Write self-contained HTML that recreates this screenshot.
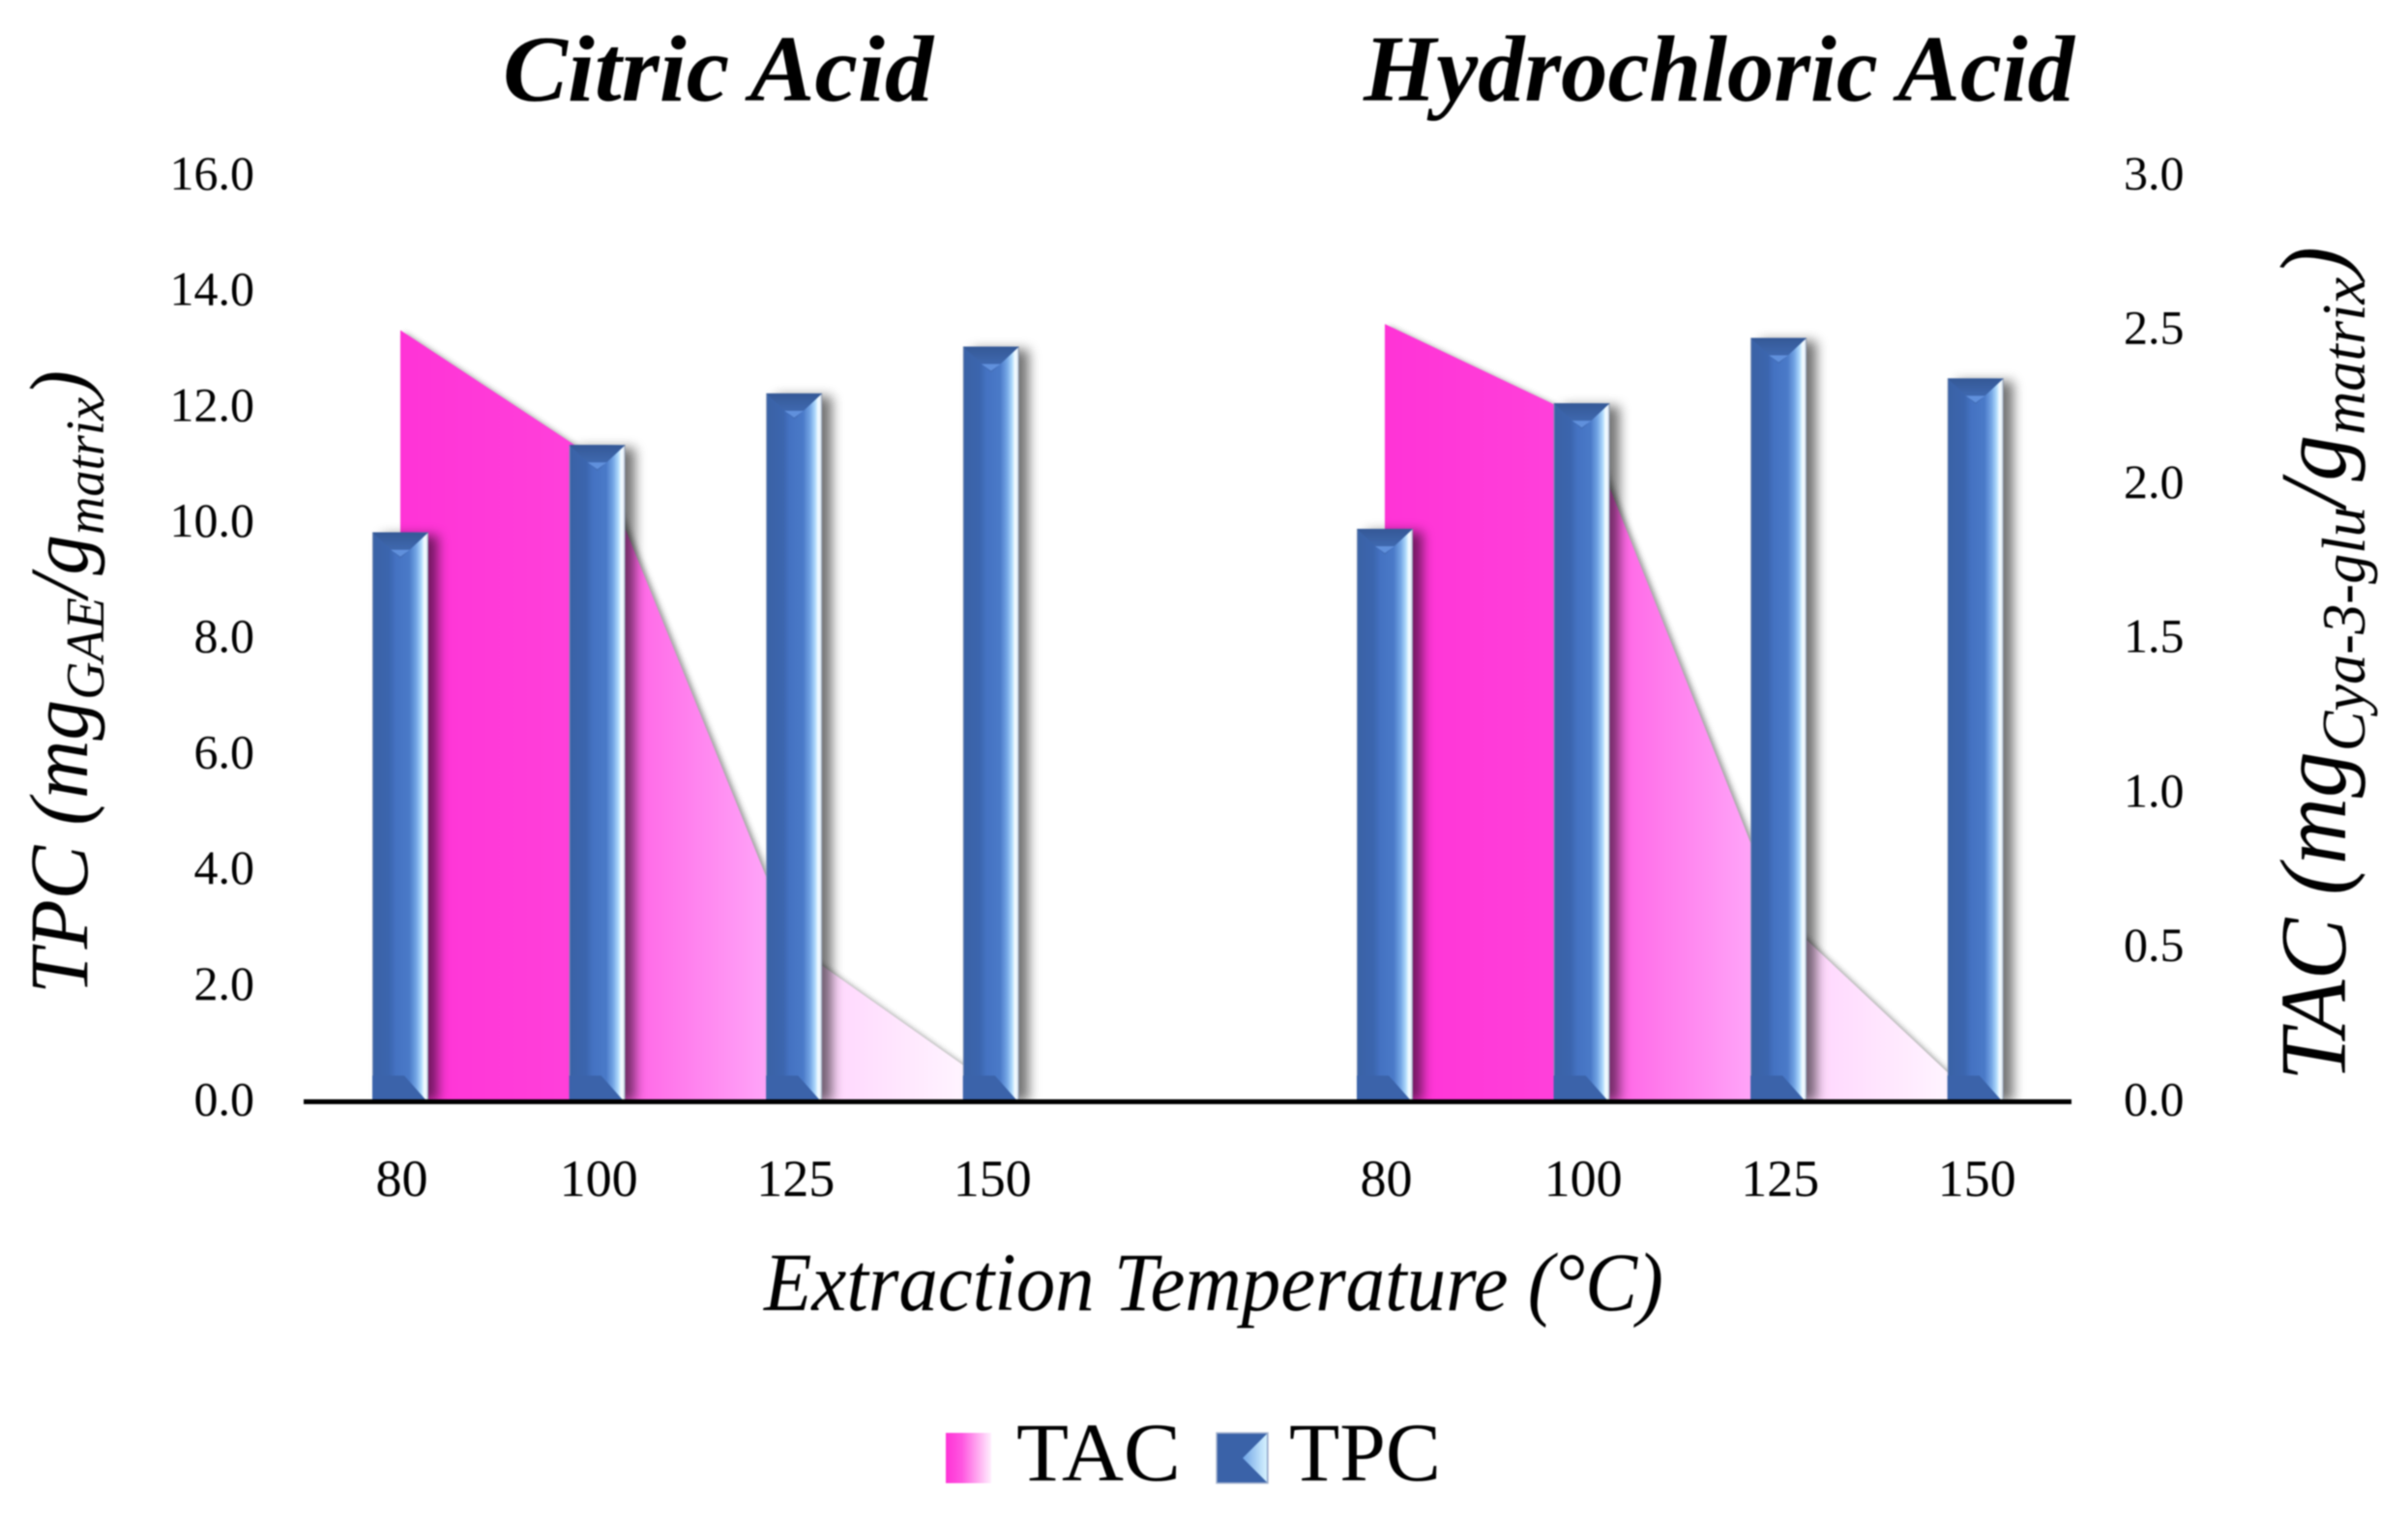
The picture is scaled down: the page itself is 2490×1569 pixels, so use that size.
<!DOCTYPE html>
<html lang="en">
<head>
<meta charset="utf-8">
<title>TPC and TAC by Extraction Temperature</title>
<style>
  html, body { margin: 0; padding: 0; background: #fff; }
  #chart { display: block; width: 2490px; height: 1569px; font-family: "Liberation Serif", serif; filter: blur(0.7px); }
  text { fill: #000; }
</style>
</head>
<body>
<svg id="chart" xmlns="http://www.w3.org/2000/svg" width="2490" height="1569" viewBox="0 0 2490 1569">
  <defs>
    <linearGradient id="barFill" x1="0" y1="0" x2="1" y2="0">
      <stop offset="0" stop-color="#8d9dba"/>
      <stop offset="0.025" stop-color="#3a62a6"/>
      <stop offset="0.3" stop-color="#3b65ae"/>
      <stop offset="0.42" stop-color="#4472c2"/>
      <stop offset="0.66" stop-color="#4a7ac8"/>
      <stop offset="0.78" stop-color="#72a4e4"/>
      <stop offset="0.87" stop-color="#acd8fb"/>
      <stop offset="0.93" stop-color="#f6fdff"/>
      <stop offset="0.97" stop-color="#e4eef8"/>
      <stop offset="1" stop-color="#7d8aa0"/>
    </linearGradient>
    <linearGradient id="bevelTop" x1="0" y1="0" x2="0" y2="1">
      <stop offset="0" stop-color="#345896"/>
      <stop offset="1" stop-color="#4470bb"/>
    </linearGradient>
    <linearGradient id="tacFill" x1="0" y1="0" x2="1" y2="0">
      <stop offset="0" stop-color="#ff33d6"/>
      <stop offset="0.3" stop-color="#ff40da"/>
      <stop offset="0.42" stop-color="#ff6ee8"/>
      <stop offset="0.62" stop-color="#ffa4f8"/>
      <stop offset="0.72" stop-color="#ffd6fd"/>
      <stop offset="1" stop-color="#fffaff"/>
    </linearGradient>
    <linearGradient id="legendTac" x1="0" y1="0" x2="1" y2="0">
      <stop offset="0" stop-color="#ff33d6"/>
      <stop offset="0.35" stop-color="#ff55e0"/>
      <stop offset="1" stop-color="#fff0fe"/>
    </linearGradient>
    <linearGradient id="legendLight" x1="0" y1="0" x2="1" y2="0">
      <stop offset="0" stop-color="#6ea4e6"/>
      <stop offset="1" stop-color="#d6f2ff"/>
    </linearGradient>
    <filter id="barShadow" x="-60%" y="-5%" width="220%" height="110%"><feGaussianBlur stdDeviation="6"/></filter>
    <filter id="areaShadow" x="-5%" y="-5%" width="110%" height="110%"><feGaussianBlur stdDeviation="3"/></filter>
    <clipPath id="plotClip"><rect x="0" y="0" width="2490" height="1139"/></clipPath>
  </defs>

  <g id="marks"></g>

  <line x1="314" y1="1139.5" x2="2142" y2="1139.5" stroke="#000" stroke-width="5"/>

  <g id="leftTicks" font-size="50" text-anchor="end"></g>
  <g id="rightTicks" font-size="50" text-anchor="start"></g>
  <g id="xTicks" font-size="54" text-anchor="middle"></g>

  <text x="520" y="104" font-size="98" font-weight="bold" font-style="italic" textLength="445" lengthAdjust="spacingAndGlyphs">Citric Acid</text>
  <text x="1410" y="104" font-size="98" font-weight="bold" font-style="italic" textLength="735" lengthAdjust="spacingAndGlyphs">Hydrochloric Acid</text>

  <text x="790" y="1355" font-size="86" font-style="italic" textLength="930" lengthAdjust="spacingAndGlyphs">Extraction Temperature (°C)</text>

  <text transform="translate(90,1028) rotate(-90)" font-size="86" font-style="italic" textLength="645" lengthAdjust="spacingAndGlyphs">TPC (mg<tspan font-size="56" dy="17">GAE</tspan><tspan dy="-17">/g</tspan><tspan font-size="56" dy="17">matrix</tspan><tspan dy="-17">)</tspan></text>

  <text transform="translate(2425,1118) rotate(-90)" font-size="98" font-style="italic" textLength="863" lengthAdjust="spacingAndGlyphs">TAC (mg<tspan font-size="64" dy="20">Cya-3-glu</tspan><tspan dy="-20">/g</tspan><tspan font-size="64" dy="20">matrix</tspan><tspan dy="-20">)</tspan></text>

  <g>
    <g>
      <rect x="978" y="1482" width="47" height="52" fill="url(#legendTac)"/>
      <text x="1051" y="1531" font-size="86" textLength="170" lengthAdjust="spacingAndGlyphs">TAC</text>
    </g>
    <g>
      <rect x="1258" y="1482" width="53" height="52" fill="#3a62a8" stroke="#a8b6d0" stroke-width="1.5"/>
      <polygon points="1310,1483 1310,1533 1285,1508" fill="url(#legendLight)"/>
      <text x="1333" y="1531" font-size="86" textLength="157" lengthAdjust="spacingAndGlyphs">TPC</text>
    </g>
  </g>
</svg>

<script>
// Chart data
const categories = ['80', '100', '125', '150'];
const tpcCitric = [9.84, 11.35, 12.24, 13.05];
const tpcHydrochloric = [9.9, 12.07, 13.2, 12.5];
const tacCitric = [2.5, 2.08, 0.505, 0.055];
const tacHydrochloric = [2.52, 2.217, 0.61, 0.01];
const leftTickLabels = ['0.0', '2.0', '4.0', '6.0', '8.0', '10.0', '12.0', '14.0', '16.0'];
const rightTickLabels = ['0.0', '0.5', '1.0', '1.5', '2.0', '2.5', '3.0'];

const NS = 'http://www.w3.org/2000/svg';
const baseY = 1139.5;
const plotHeight = 957.6;
const leftMax = 16;
const rightMax = 3;
const firstCenter = 414;
const bandStep = 203.6;
const barWidth = 58;

function yLeft(v) { return baseY - (v / leftMax) * plotHeight; }
function yRight(v) { return baseY - (v / rightMax) * plotHeight; }
function xBand(slot) { return firstCenter + bandStep * slot; }

function make(tag, attrs, parent) {
  const el = document.createElementNS(NS, tag);
  for (const k in attrs) el.setAttribute(k, attrs[k]);
  parent.appendChild(el);
  return el;
}

const marks = document.getElementById('marks');

function drawArea(values, startSlot, groupName) {
  const pts = values.map((v, i) => xBand(startSlot + i) + ',' + yRight(v));
  const first = xBand(startSlot);
  const last = xBand(startSlot + values.length - 1);
  const poly = [first + ',' + baseY].concat(pts, [last + ',' + baseY]).join(' ');
  const shadow = make('polygon', { points: poly, fill: '#333', opacity: 0.5, filter: 'url(#areaShadow)', transform: 'translate(4,2)', 'clip-path': 'url(#plotClip)' }, marks);
  
  
  const area = make('polygon', { points: poly, fill: 'url(#tacFill)' }, marks);
  
  
}

function drawBars(values, startSlot, groupName) {
  values.forEach((v, i) => {
    const cx = xBand(startSlot + i);
    const left = cx - barWidth / 2;
    const right = cx + barWidth / 2;
    const top = yLeft(v);
    const h = baseY - top;
    const bevel = 27;

    const sh = make('rect', { x: left + 10, y: top + 3, width: barWidth, height: h - 3, fill: '#000', opacity: 0.55, filter: 'url(#barShadow)', 'clip-path': 'url(#plotClip)' }, marks);
    
    

    const bar = make('rect', { x: left, y: top, width: barWidth, height: h, fill: 'url(#barFill)' }, marks);
    
    

    const topBevel = make('polygon', { points: left + ',' + top + ' ' + right + ',' + top + ' ' + cx + ',' + (top + bevel), fill: 'url(#bevelTop)' }, marks);
    
    

    const tip = make('polygon', { points: (cx - 10) + ',' + (top + 18) + ' ' + (cx + 10) + ',' + (top + 18) + ' ' + cx + ',' + (top + 25), fill: '#6090dc' }, marks);
    
    

    const bottomBevel = make('polygon', { points: left + ',' + baseY + ' ' + (right - 1) + ',' + baseY + ' ' + (cx + 4) + ',' + (baseY - bevel) + ' ' + left + ',' + (baseY - bevel), fill: '#3b63aa' }, marks);
    
    
  });
}

drawArea(tacCitric, 0, 'citric');
drawArea(tacHydrochloric, 5, 'hydrochloric');
drawBars(tpcCitric, 0, 'citric');
drawBars(tpcHydrochloric, 5, 'hydrochloric');

const leftTicks = document.getElementById('leftTicks');
leftTickLabels.forEach((label) => {
  const t = make('text', { x: 263, y: yLeft(parseFloat(label)) + 14 }, leftTicks);
  
  
  t.textContent = label;
});

const rightTicks = document.getElementById('rightTicks');
rightTickLabels.forEach((label) => {
  const t = make('text', { x: 2196, y: yRight(parseFloat(label)) + 14 }, rightTicks);
  
  
  t.textContent = label;
});

const xTicks = document.getElementById('xTicks');
[0, 5].forEach((startSlot) => {
  categories.forEach((label, i) => {
    const t = make('text', { x: xBand(startSlot + i) + 1.5, y: 1237 }, xTicks);
    
    
    t.textContent = label;
  });
});
</script>
</body>
</html>
